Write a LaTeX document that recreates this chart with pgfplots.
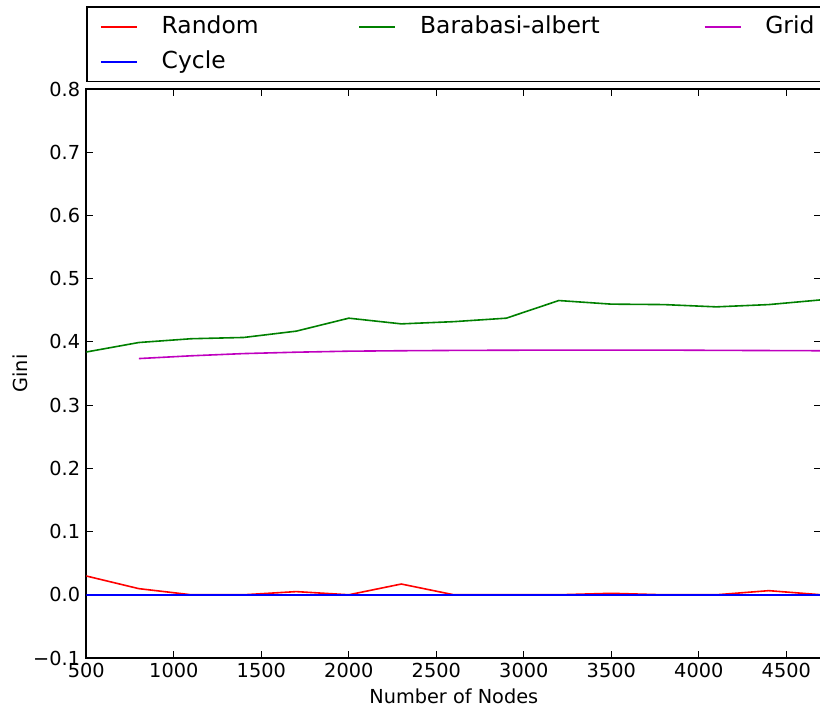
\documentclass[border=0pt]{standalone}
\usepackage{pgfplots}
\pgfplotsset{compat=1.18}
\usepackage{fontspec}
\setmainfont{DejaVu Sans}
\definecolor{mplgreen}{rgb}{0,0.5,0}
\definecolor{mplmag}{rgb}{0.75,0,0.75}
\begin{document}
\begin{tikzpicture}
\begin{axis}[
  scale only axis, width=735pt, height=569pt,
  xmin=500, xmax=4700, ymin=-0.1, ymax=0.8,
  axis line style={line width=1.6pt, black},
  tick align=inside, major tick length=7pt,
  tick style={line width=0.8pt, black},
  minor tick num=0,
  xtick={500,1000,1500,2000,2500,3000,3500,4000,4500},
  xticklabels={500,1000,1500,2000,2500,3000,3500,4000,4500},
  ytick={-0.1,0,0.1,0.2,0.3,0.4,0.5,0.6,0.7,0.8},
  yticklabels={−0.1,0.0,0.1,0.2,0.3,0.4,0.5,0.6,0.7,0.8},
  ticklabel style={font=\fontsize{19.3}{23}\selectfont, inner sep=0pt},
  xticklabel style={anchor=north, yshift=-5pt},
  yticklabel style={anchor=east, xshift=-6pt},
  xlabel={Number of Nodes},
  ylabel={Gini},
  label style={font=\fontsize{19.3}{23}\selectfont, inner sep=0pt},
  xlabel style={at={([yshift=-45.5pt]axis description cs:0.5,0)}, anchor=base},
  ylabel style={at={([xshift=-59pt]axis description cs:0,0.5)}, anchor=base, rotate=0},
  legend columns=3,
  legend cell align=left,
  legend image code/.code={\draw[#1, line width=1.6pt] (0pt,0pt) -- (36pt,0pt);},
  legend style={at={(axis description cs:0,1)}, anchor=south west, yshift=6.5pt,
    draw=black, line width=1.6pt, inner xsep=13pt, inner ysep=7.5pt,
    font=\fontsize{23.4}{28}\selectfont,
    row sep=10.5pt,
    nodes={inner sep=0pt, text height=19pt, text depth=5.5pt},
    /tikz/every odd column/.append style={column sep=24pt},
    /tikz/column 2/.append style={column sep=100pt},
    /tikz/column 4/.append style={column sep=104pt}},
  every axis plot/.append style={line width=1.6pt},
]
\addplot[red] coordinates {
(500,0.0297) (800,0.0097) (1100,0) (1400,0) (1700,0.005) (2000,0)
(2300,0.017) (2600,0) (2900,0) (3200,0) (3500,0.0023) (3800,0)
(4100,0) (4400,0.0065) (4700,0)};
\addlegendentry{Random}
\addplot[mplgreen] coordinates {
(500,0.384) (800,0.399) (1100,0.405) (1400,0.407) (1700,0.417) (2000,0.4375)
(2300,0.4285) (2600,0.432) (2900,0.4375) (3200,0.4654) (3500,0.4597) (3800,0.459)
(4100,0.4554) (4400,0.459) (4700,0.4665)};
\addlegendentry{Barabasi-albert}
\addplot[mplmag] coordinates {
(800,0.3736) (1100,0.378) (1400,0.3815) (1700,0.3837) (2000,0.3853)
(2300,0.386) (2600,0.3865) (2900,0.3868) (3200,0.387) (3500,0.387)
(3800,0.387) (4100,0.3866) (4400,0.3863) (4700,0.386)};
\addlegendentry{Grid}
\addplot[blue] coordinates {
(500,0) (800,0) (1100,0) (1400,0) (1700,0) (2000,0) (2300,0) (2600,0)
(2900,0) (3200,0) (3500,0) (3800,0) (4100,0) (4400,0) (4700,0)};
\addlegendentry{Cycle}
\end{axis}
\pgfresetboundingbox
\path[use as bounding box] ([xshift=-86.3pt,yshift=-51pt]current axis.south west) rectangle ([xshift=-1.3pt,yshift=89pt]current axis.north east);
\end{tikzpicture}
\end{document}
